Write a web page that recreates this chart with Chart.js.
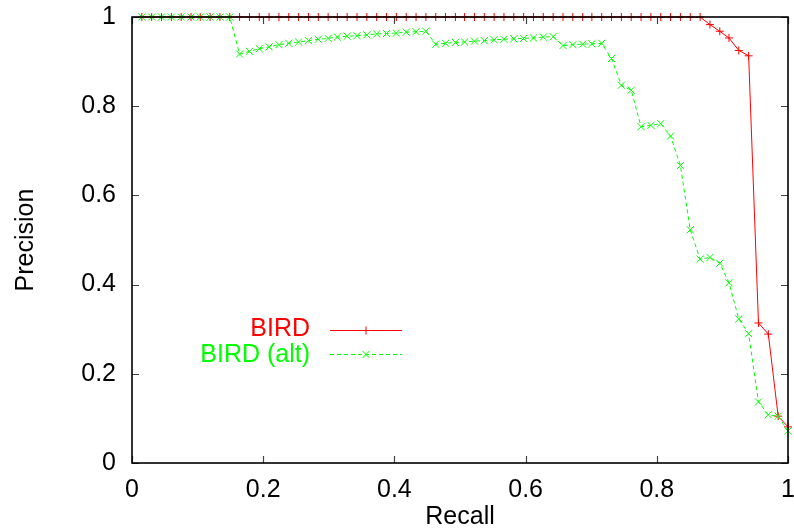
<!DOCTYPE html>
<html>
<head>
<meta charset="utf-8">
<script src="https://cdn.jsdelivr.net/npm/chart.js@4.4.1/dist/chart.umd.min.js"></script>
<style>
html,body{margin:0;padding:0;background:#fff;}
#wrap{width:794px;height:532px;position:relative;}
</style>
</head>
<body>
<div id="wrap"><canvas id="c" width="794" height="532"></canvas></div>
<script>
// Recall values (x) shared by both curves
const recall = [0.015,0.030,0.045,0.060,0.075,0.090,0.104,0.119,0.134,0.149,
  0.164,0.179,0.194,0.209,0.224,0.239,0.254,0.269,0.284,0.299,
  0.313,0.328,0.343,0.358,0.373,0.388,0.403,0.418,0.433,0.448,
  0.463,0.478,0.493,0.507,0.522,0.537,0.552,0.567,0.582,0.597,
  0.612,0.627,0.642,0.657,0.672,0.687,0.701,0.716,0.731,0.746,
  0.761,0.776,0.791,0.806,0.821,0.836,0.851,0.866,0.881,0.896,
  0.910,0.925,0.940,0.955,0.970,0.985,1.000];
// Precision for "BIRD"
const precisionBird = [1,1,1,1,1,1,1,1,1,1,
  1,1,1,1,1,1,1,1,1,1,
  1,1,1,1,1,1,1,1,1,1,
  1,1,1,1,1,1,1,1,1,1,
  1,1,1,1,1,1,1,1,1,1,
  1,1,1,1,1,1,1,1,0.983,0.968,
  0.953,0.925,0.913,0.314,0.289,0.105,0.081];
// Precision for "BIRD (alt)"
const precisionAlt = [1,1,1,1,1,1,1,1,1,1,
  0.917,0.923,0.929,0.933,0.938,0.941,0.944,0.947,0.950,0.952,
  0.955,0.957,0.958,0.960,0.962,0.963,0.964,0.966,0.967,0.968,
  0.939,0.941,0.943,0.944,0.946,0.947,0.949,0.950,0.951,0.952,
  0.953,0.955,0.956,0.936,0.938,0.939,0.940,0.941,0.907,0.847,
  0.836,0.754,0.757,0.761,0.733,0.667,0.523,0.457,0.461,0.448,
  0.404,0.323,0.290,0.137,0.108,0.105,0.072];
const seriesNames = ["BIRD", "BIRD (alt)"];
const xTicks = [0, 0.2, 0.4, 0.6, 0.8, 1];
const yTicks = [0, 0.2, 0.4, 0.6, 0.8, 1];

const FONT = "'Liberation Sans', Arial, sans-serif";

const framePlugin = {
  id: 'frame',
  afterDatasetsDraw(chart) {
    const {ctx, chartArea: a, scales} = chart;
    ctx.save();
    ctx.strokeStyle = '#444';
    ctx.lineWidth = 1.2;
    const tl = 7;
    ctx.beginPath();
    scales.x.ticks.forEach(t => {
      const px = Math.round(scales.x.getPixelForValue(t.value)) + 0.5;
      ctx.moveTo(px, a.bottom); ctx.lineTo(px, a.bottom - tl);
      ctx.moveTo(px, a.top); ctx.lineTo(px, a.top + tl);
    });
    scales.y.ticks.forEach(t => {
      const py = Math.round(scales.y.getPixelForValue(t.value)) + 0.5;
      ctx.moveTo(a.left, py); ctx.lineTo(a.left + tl, py);
      ctx.moveTo(a.right, py); ctx.lineTo(a.right - tl, py);
    });
    ctx.stroke();
    ctx.strokeStyle = '#000';
    ctx.lineWidth = 1.6;
    ctx.strokeRect(a.left, a.top, a.right - a.left, a.bottom - a.top);
    ctx.restore();
  },
  afterDraw(chart) {
    const ctx = chart.ctx;
    ctx.save();
    ctx.font = "25px " + FONT;
    ctx.textAlign = 'right';
    ctx.textBaseline = 'middle';
    const rows = [{y: 329, ly: 330.5}, {y: 355, ly: 354.5}];
    chart.data.datasets.forEach((ds, i) => {
      const r = rows[i];
      ctx.fillStyle = ds.borderColor;
      ctx.fillText(ds.label, 310, r.y);
      ctx.strokeStyle = ds.borderColor;
      ctx.lineWidth = 1;
      ctx.setLineDash(ds.borderDash || []);
      ctx.beginPath();
      ctx.moveTo(330, r.ly); ctx.lineTo(402, r.ly);
      ctx.stroke();
      ctx.setLineDash([]);
      const mx = 366, my = r.ly;
      ctx.beginPath();
      if (ds.pointStyle === 'cross') {
        ctx.moveTo(mx, my - 4); ctx.lineTo(mx, my + 4);
        ctx.moveTo(mx - 4, my); ctx.lineTo(mx + 4, my);
      } else {
        ctx.moveTo(mx - 3.5, my - 3.5); ctx.lineTo(mx + 3.5, my + 3.5);
        ctx.moveTo(mx - 3.5, my + 3.5); ctx.lineTo(mx + 3.5, my - 3.5);
      }
      ctx.stroke();
    });
    ctx.restore();
  }
};

new Chart(document.getElementById('c'), {
  type: 'line',
  data: {
    datasets: [
      {
        label: seriesNames[0],
        data: recall.map((x, i) => ({x: x, y: precisionBird[i]})),
        borderColor: '#ff0000',
        backgroundColor: '#ff0000',
        borderWidth: 1,
        pointStyle: 'cross',
        pointRadius: 4,
        pointBorderWidth: 1,
        tension: 0,
        fill: false,
        clip: false,
        order: 2
      },
      {
        label: seriesNames[1],
        data: recall.map((x, i) => ({x: x, y: precisionAlt[i]})),
        borderColor: '#00ff00',
        backgroundColor: '#00ff00',
        borderWidth: 1,
        borderDash: [4, 3],
        pointStyle: 'crossRot',
        pointRadius: 5,
        pointBorderWidth: 1,
        tension: 0,
        fill: false,
        clip: false,
        order: 1
      }
    ]
  },
  options: {
    responsive: false,
    animation: false,
    events: [],
    layout: {padding: {left: 0, right: 3, top: 17, bottom: 0}},
    plugins: {legend: {display: false}, tooltip: {enabled: false}, title: {display: false}},
    scales: {
      x: {
        type: 'linear', min: 0, max: 1,
        afterBuildTicks: s => { s.ticks = xTicks.map(v => ({value: v})); },
        afterFit: s => { s.height = 69; s.paddingLeft = 0; s.paddingRight = 0; },
        grid: {display: false, drawTicks: false},
        border: {display: false},
        ticks: {padding: 12, color: '#000', font: {family: FONT, size: 25}, maxRotation: 0,
          callback: v => String(v)},
        title: {display: true, text: 'Recall', color: '#000', font: {family: FONT, size: 25}, padding: {top: 0, bottom: 0}}
      },
      y: {
        type: 'linear', min: 0, max: 1,
        afterBuildTicks: s => { s.ticks = yTicks.map(v => ({value: v})); },
        afterFit: s => { s.width = 132; s.paddingTop = 0; s.paddingBottom = 0; },
        grid: {display: false, drawTicks: false},
        border: {display: false},
        ticks: {padding: 16, color: '#000', font: {family: FONT, size: 25},
          callback: v => String(v)},
        title: {display: true, text: 'Precision', color: '#000', font: {family: FONT, size: 25}, padding: {top: 11, bottom: 0}}
      }
    }
  },
  plugins: [framePlugin]
});
</script>
</body>
</html>
